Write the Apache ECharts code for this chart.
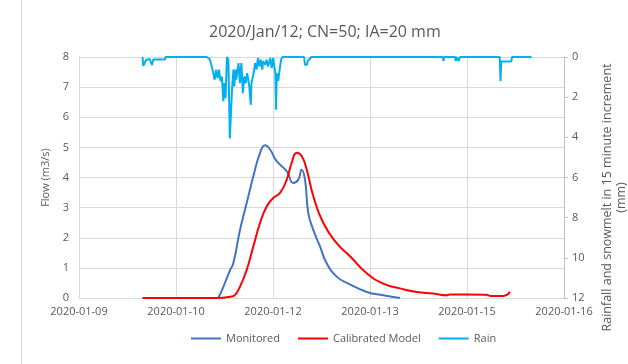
<!DOCTYPE html>
<html>
<head>
<meta charset="utf-8">
<script src="https://cdn.jsdelivr.net/npm/echarts@6/dist/echarts.min.js"></script>
<style>
	html, body { margin: 0; padding: 0; background: #fff; }
	#chart { width: 628px; height: 364px; }
</style>
</head>
<body>
<div id="chart"></div>
<script type="text/javascript">
	// times are hours since 2020-01-09 00:00
	var xTickLabels = ['2020-01-09', '2020-01-10', '2020-01-12', '2020-01-13', '2020-01-15', '2020-01-16'];

	var monitoredHours = [60.25, 62.0, 64.3, 65.45, 67.77, 70.09, 72.38, 74.7, 76.43, 78.16, 80.48, 83.95, 86.23, 87.97, 89.14, 90.29, 91.43, 93.16, 95.48, 97.8, 101.26, 105.3, 111.7, 117.4, 123.2];
	var monitoredFlow = [0, 0.37, 0.92, 1.15, 2.26, 3.15, 4.04, 4.81, 5.07, 4.93, 4.54, 4.21, 3.82, 3.93, 4.26, 3.93, 2.82, 2.26, 1.71, 1.15, 0.71, 0.48, 0.2, 0.09, 0.0];

	var calibratedHours = [34.0, 60.0, 64.3, 66.0, 67.77, 70.09, 72.38, 74.7, 77.02, 79.3, 81.63, 83.95, 85.68, 87.41, 89.14, 90.88, 93.16, 96.63, 101.26, 105.97, 111.66, 117.4, 123.2, 128.98, 134.73, 139.37, 140.5, 146.3, 153.2, 154.4, 159.0, 161.3];
	var calibratedFlow = [0, 0, 0.04, 0.1, 0.38, 0.93, 1.71, 2.49, 3.04, 3.32, 3.49, 3.93, 4.49, 4.82, 4.71, 4.26, 3.38, 2.49, 1.82, 1.38, 0.82, 0.48, 0.32, 0.2, 0.15, 0.09, 0.12, 0.12, 0.11, 0.07, 0.07, 0.2];

	var rainHours = [34.0, 34.25, 34.75, 35.25, 35.75, 36.5, 37.25, 37.75, 41.75, 42.0, 56.25, 57.25, 58.0, 58.5, 59.0, 59.5, 60.0, 60.5, 61.0, 61.5, 62.0, 62.25, 62.75, 63.25, 63.75, 64.25, 65.0, 65.5, 65.75, 66.25, 66.5, 67.25, 67.75, 68.25, 68.75, 69.25, 69.75, 70.25, 71.0, 71.5, 71.75, 72.5, 73.0, 73.5, 74.0, 74.5, 75.0, 75.5, 75.75, 76.5, 77.0, 77.5, 78.25, 78.75, 79.25, 80.0, 80.25, 80.5, 81.0, 81.5, 82.0, 82.5, 90.0, 90.25, 91.0, 91.25, 92.5, 138.0, 138.25, 138.5, 142.25, 142.5, 142.75, 143.25, 143.5, 143.75, 144.0, 157.75, 158.0, 158.25, 161.75, 162.0, 168.75];
	var rainMm = [0, 0.45, 0.47, 0.15, 0.2, 0.1, 0.4, 0.13, 0.13, 0, 0, 0.1, 0.47, 0.8, 1.13, 0.63, 1.05, 0.63, 1.2, 0.97, 2.2, 1.3, 2.05, 0, 0.15, 4.05, 1.6, 0.63, 1.47, 0.63, 1.13, 0.3, 1.3, 0.3, 1.8, 0.97, 1.3, 0.8, 1.47, 2.38, 1.3, 0.8, 0.3, 0.63, 0.05, 0.47, 0.13, 0.63, 0.22, 0.38, 0.13, 0.47, 0.05, 0.55, 0.05, 0.8, 2.63, 0.8, 1.2, 0.63, 0.13, 0, 0, 0.38, 0.38, 0.2, 0, 0, 0.2, 0, 0, 0.2, 0, 0, 0.2, 0.2, 0, 0, 1.2, 0.22, 0.22, 0, 0];

	// x axis counts minutes from 2020-01-09 12:00 so the 1.4 day steps fall on integers
	function toAxis(hours, values) {
		var list = [];
		for (var i = 0; i < hours.length; i++) {
			list.push([Math.round((hours[i] - 12) * 60), values[i]]);
		}
		return list;
	}

	var grey = '#595959';
	var gridColor = '#D9D9D9';
	var font = 'Open Sans';

	var chart = echarts.init(document.getElementById('chart'));
	var option = {
		animation: false,
		backgroundColor: '#fff',
		textStyle: { fontFamily: font },
		title: {
			text: '2020/Jan/12; CN=50; IA=20 mm',
			left: 204,
			top: 19,
			textStyle: { color: grey, fontSize: 16, fontWeight: 'normal', fontFamily: font }
		},
		graphic: [{
			type: 'line',
			shape: { x1: 21.5, y1: 0, x2: 21.5, y2: 364 },
			style: { stroke: gridColor, lineWidth: 1 }
		}],
		legend: {
			bottom: 15,
			left: 186,
			itemWidth: 30,
			itemHeight: 2,
			itemGap: 18,
			icon: 'rect',
			textStyle: { color: grey, fontSize: 11, fontFamily: font },
			data: ['Monitored', 'Calibrated Model', 'Rain']
		},
		grid: {
			left: 79,
			right: 64,
			top: 57,
			bottom: 66,
			outerBoundsMode: 'none'
		},
		xAxis: {
			type: 'value',
			min: 0,
			max: 10080,
			interval: 2016,
			axisLine: { show: true, lineStyle: { color: gridColor } },
			axisTick: { show: false },
			splitLine: { show: true, lineStyle: { color: gridColor } },
			axisLabel: {
				color: grey,
				fontSize: 11,
				margin: 8,
				formatter: function (value, index) {
					return xTickLabels[Math.round(value / 2016)];
				}
			}
		},
		yAxis: [
			{
				type: 'value',
				min: 0,
				max: 8,
				interval: 1,
				name: 'Flow (m3/s)',
				nameLocation: 'middle',
				nameRotate: 90,
				nameGap: 20,
				nameTextStyle: { color: grey, fontSize: 11, fontFamily: font },
				axisLine: { show: true, lineStyle: { color: gridColor } },
				axisTick: { show: false },
				splitLine: { show: true, lineStyle: { color: gridColor } },
				axisLabel: { color: grey, fontSize: 11, margin: 10 }
			},
			{
				type: 'value',
				position: 'right',
				inverse: true,
				min: 0,
				max: 12,
				interval: 2,
				name: 'Rainfall and snowmelt in 15 minute increment\n(mm)',
				nameLocation: 'middle',
				nameRotate: 90,
				nameGap: 36,
				nameTextStyle: { color: grey, fontSize: 12.5, fontFamily: font, lineHeight: 14, padding: [0, 40, 0, 0] },
				axisLine: { show: true, lineStyle: { color: '#BFBFBF' } },
				axisTick: { show: true, length: 4, lineStyle: { color: '#BFBFBF' } },
				splitLine: { show: false },
				axisLabel: { color: grey, fontSize: 11, margin: 8 }
			}
		],
		series: [
			{
				name: 'Monitored',
				type: 'line',
				showSymbol: false,
				smooth: 0.5,
				color: '#4472C4',
				lineStyle: { width: 2 },
				data: toAxis(monitoredHours, monitoredFlow)
			},
			{
				name: 'Calibrated Model',
				type: 'line',
				showSymbol: false,
				smooth: 0.5,
				color: '#FF0000',
				lineStyle: { width: 2 },
				data: toAxis(calibratedHours, calibratedFlow)
			},
			{
				name: 'Rain',
				type: 'line',
				yAxisIndex: 1,
				showSymbol: false,
				color: '#00B0F0',
				lineStyle: { width: 2 },
				data: toAxis(rainHours, rainMm)
			}
		]
	};
	chart.setOption(option);
	window.onresize = function () {
		chart.resize();
	};
</script>
</body>
</html>
